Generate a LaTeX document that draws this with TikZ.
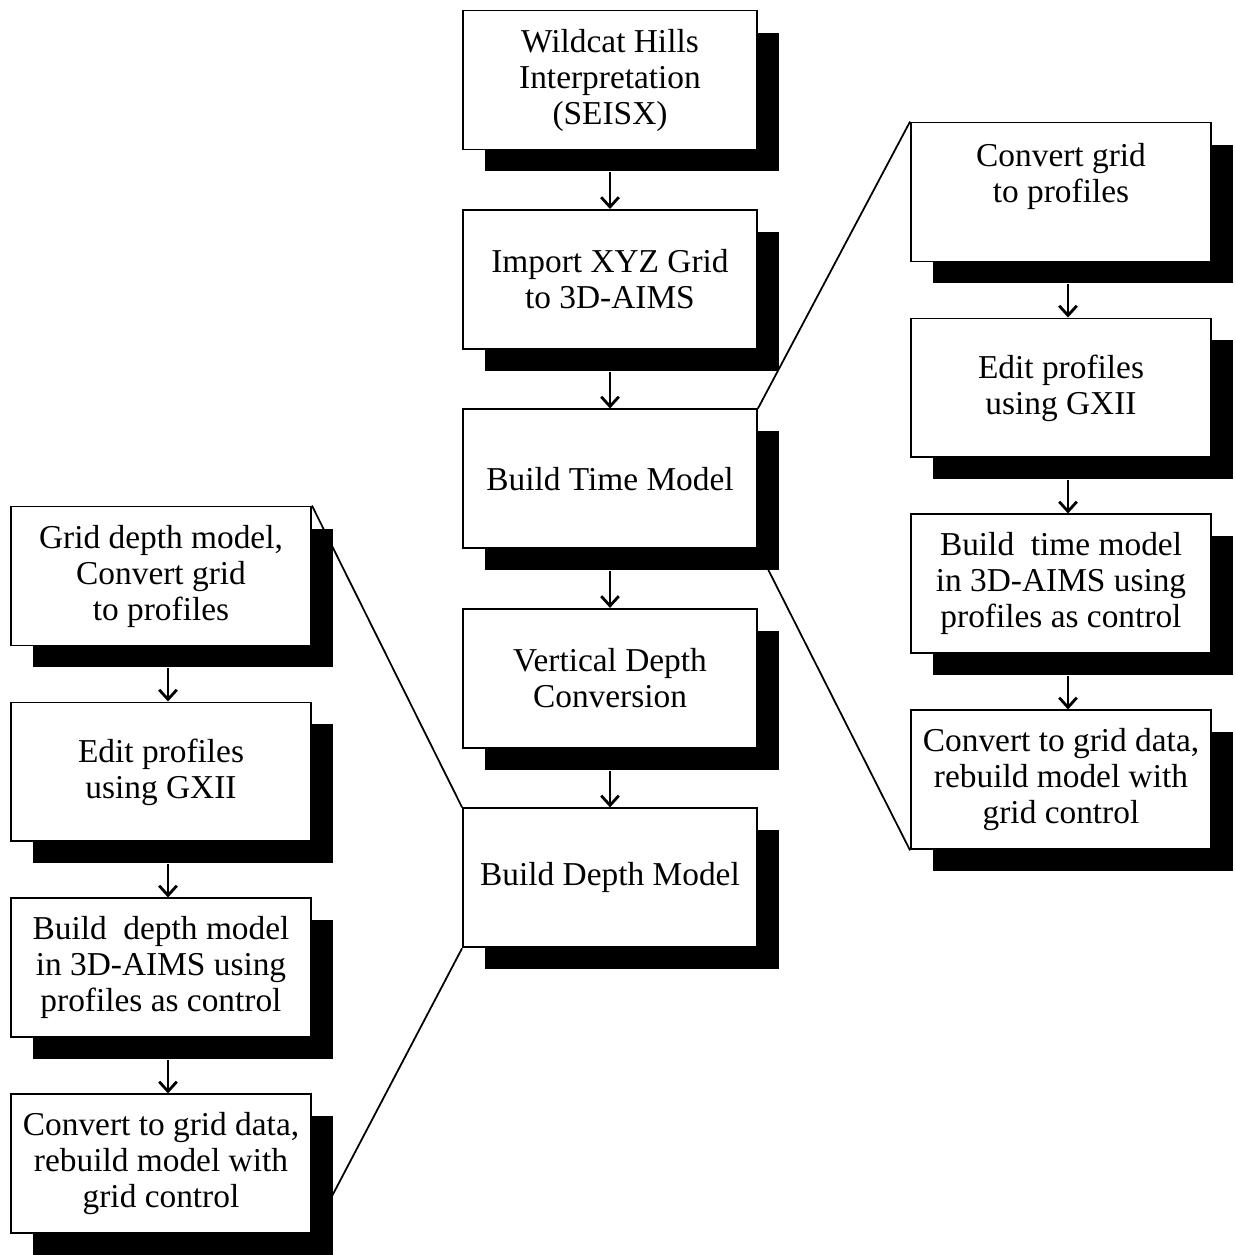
\documentclass[tikz,border=0pt]{standalone}
\usepackage{fontspec}
\setmainfont{Liberation Serif}
\usetikzlibrary{arrows.meta,shadows,backgrounds,positioning}

\begin{document}
\begin{tikzpicture}[x=0.02cm,y=-0.02cm,>={Straight Barb[length=5.5pt,width=10pt,line width=1.6pt]},line width=1.1pt]
        \tikzstyle{proc}=[draw=black,fill=white,line width=1.1pt,align=center,
                          minimum width=5.88cm,minimum height=2.78cm,inner sep=2pt,
                          font=\fontsize{19}{20.5}\selectfont,
                          drop shadow={shadow xshift=0.44cm,shadow yshift=-0.44cm,fill=black,opacity=1}]
        \tikzstyle{side}=[proc,minimum width=6cm]
        \tikzstyle{flow}=[->,line width=1.1pt]

        \useasboundingbox (0,0) rectangle (1236,1255);

        % main column
        \node[proc] (C1) at (610,80)          {Wildcat Hills\\Interpretation\\(SEISX)};
        \begin{scope}[node distance=3.99cm]
        \node[proc] (C2) [below of=C1]        {Import XYZ Grid\\to 3D-AIMS};
        \node[proc] (C3) [below of=C2]        {Build Time Model};
        \node[proc] (C4) [below of=C3]        {Vertical Depth\\Conversion};
        \node[proc] (C5) [below of=C4]        {Build Depth Model};
        \end{scope}

        % time model detail
        \node[side,text depth=22pt] (R1) at (1061,192) {Convert grid\\to profiles};
        \begin{scope}[node distance=3.92cm]
        \node[side] (R2) [below of=R1]        {Edit profiles\\using GXII};
        \node[side] (R3) [below of=R2]        {Build\ \ time model\\in 3D-AIMS using\\profiles as control};
        \node[side] (R4) [below of=R3]        {Convert to grid data,\\rebuild model with\\grid control};
        \end{scope}

        % depth model detail
        \node[side] (L1) at (161,576)         {Grid depth model,\\Convert grid\\to profiles};
        \begin{scope}[node distance=3.92cm]
        \node[side] (L2) [below of=L1]        {Edit profiles\\using GXII};
        \node[side] (L3) [below of=L2]        {Build\ \ depth model\\in 3D-AIMS using\\profiles as control};
        \node[side] (L4) [below of=L3]        {Convert to grid data,\\rebuild model with\\grid control};
        \end{scope}

        \draw[flow] ([shift={(0,22)}]C1.south) -- (C2.north);
        \draw[flow] ([shift={(0,22)}]C2.south) -- (C3.north);
        \draw[flow] ([shift={(0,22)}]C3.south) -- (C4.north);
        \draw[flow] ([shift={(0,22)}]C4.south) -- (C5.north);

        \draw[flow] ([shift={(7,22)}]R1.south) -- ([shift={(7,0)}]R2.north);
        \draw[flow] ([shift={(7,22)}]R2.south) -- ([shift={(7,0)}]R3.north);
        \draw[flow] ([shift={(7,22)}]R3.south) -- ([shift={(7,0)}]R4.north);

        \draw[flow] ([shift={(7,22)}]L1.south) -- ([shift={(7,0)}]L2.north);
        \draw[flow] ([shift={(7,22)}]L2.south) -- ([shift={(7,0)}]L3.north);
        \draw[flow] ([shift={(7,22)}]L3.south) -- ([shift={(7,0)}]L4.north);

        % zoom lines behind the shadows
        \begin{pgfonlayer}{background}
            \draw[line width=1pt] (C3.north east) -- (R1.north west);
            \draw[line width=1pt] (C3.south east) -- (R4.south west);
            \draw[line width=1pt] (L1.north east) -- (C5.north west);
            \draw[line width=1pt] (C5.south west) -- (L4.south east);
        \end{pgfonlayer}
    \end{tikzpicture}
\end{document}
